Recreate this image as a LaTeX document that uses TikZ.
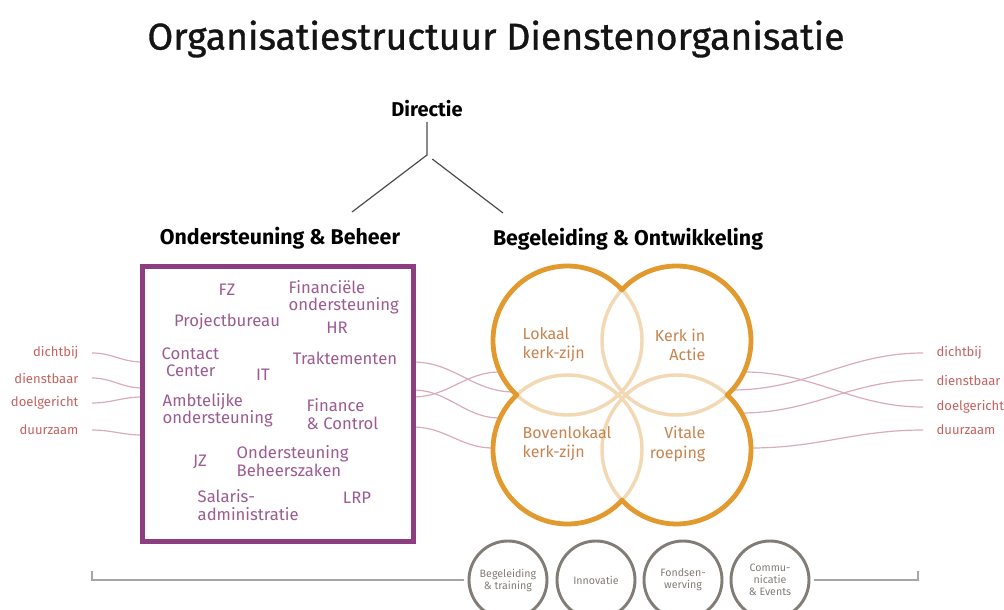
\documentclass[tikz,border=0pt]{standalone}
\usepackage{fontspec}
\setmainfont{Fira Sans}
\newfontfamily\titlefont{Fira Sans}[FakeBold=0.9]
\usepackage{tikz}
\usetikzlibrary{positioning}
\definecolor{mypurple}{RGB}{140,62,128}
\definecolor{myorange}{RGB}{226,154,46}
\definecolor{mylight}{RGB}{242,217,180}
\definecolor{myrust}{RGB}{200,132,80}
\definecolor{mypink}{RGB}{196,98,96}
\definecolor{mystrand}{RGB}{216,172,188}
\definecolor{mygrey}{RGB}{130,124,118}

\begin{document}
\begin{tikzpicture}[x=0.75pt,y=-0.75pt,
    strand/.style={draw=mystrand, line width=0.9pt}]
\useasboundingbox (0,0) rectangle (1004,610);
\clip (0,0) rectangle (1004,610);

\node[text=black!92, font=\titlefont\fontsize{28}{32}\selectfont] (title) at (496,39) {Organisatiestructuur Dienstenorganisatie};

\begin{scope}[every node/.style={font=\bfseries\fontsize{16}{18}\selectfont}]
    \node[font=\bfseries\fontsize{15}{17}\selectfont] (dir) at (427,109) {Directie};
    \node (obt) at (280,238) {Ondersteuning \& Beheer};
    \node (bot) at (628,239) {Begeleiding \& Ontwikkeling};
\end{scope}
\coordinate (split) at (427,155);
\coordinate (obtop) at (352,212);
\coordinate (botop) at (503,213);
\draw[black!70, line width=0.9pt, shorten <=5pt] (dir.south) -- (split) -- (obtop) (split) -- (botop);

% kernwaarden links en rechts
\begin{scope}[every node/.style={text=mypink, font=\fontsize{9.8}{11}\selectfont, inner xsep=10pt}]
    \node[anchor=east] (ldi) at (92,353) {dichtbij};
    \node[anchor=east] (lds) at (92,378) {dienstbaar};
    \node[anchor=east] (ldo) at (92,403) {doelgericht};
    \node[anchor=east] (ldu) at (92,430) {duurzaam};
    \node[anchor=west] (rdi) at (923,353) {dichtbij};
    \node[anchor=west] (rds) at (923,380) {dienstbaar};
    \node[anchor=west] (rdo) at (923,407) {doelgericht};
    \node[anchor=west] (rdu) at (923,430) {duurzaam};
\end{scope}

\path[strand] (ldi.east) to[out=0,in=180] (142,362) -- (413,362) to[out=0,in=180] (514,392) -- (732,390) to[out=0,in=180] (rdi.west);
\path[strand] (lds.east) to[out=0,in=180] (142,388) -- (413,390) to[out=0,in=180] (500,418) -- (741,413) to[out=0,in=180] (rds.west);
\path[strand] (ldo.east) to[out=0,in=180] (142,397) -- (413,397) to[out=0,in=180] (500,372) -- (744,372) to[out=0,in=180] (rdo.west);
\path[strand] (ldu.east) to[out=0,in=180] (142,435) -- (413,427) to[out=0,in=180] (493,448) -- (751,448) to[out=0,in=180] (rdu.west);

% ondersteuning & beheer
\node[draw=mypurple, fill=white, line width=3.75pt, minimum width=203.25pt, minimum height=206.25pt] (obox) at (277.5,403.5) {};

\begin{scope}[every node/.style={text=mypurple!85!white, align=left, font=\fontsize{12.5}{13}\selectfont}]
    \node (fz) at (227,290) {FZ};
    \node[anchor=west] (fin) at (284,297) {Financiële\\ondersteuning};
    \node (pb) at (227,322) {Projectbureau};
    \node (hr) at (337,328) {HR};
    \node[anchor=west] (cc) at (157,362) {Contact\\\ Center};
    \node (it) at (263,375) {IT};
    \node (tr) at (345,358) {Traktementen};
    \node[anchor=west] (amb) at (158,410) {Ambtelijke\\ondersteuning};
    \node[anchor=west] (fc) at (302,414) {Finance\\\& Control};
    \node (jz) at (200,462) {JZ};
    \node[anchor=west] (obz) at (232,461) {Ondersteuning\\Beheerszaken};
    \node[anchor=west] (sal) at (193,505) {Salaris-\\administratie};
    \node (lrp) at (357,498) {LRP};
\end{scope}

% begeleiding & ontwikkeling
\coordinate (k1) at (567.5,340.5);
\coordinate (k2) at (676.5,340.5);
\coordinate (k3) at (567.5,449.5);
\coordinate (k4) at (676.5,449.5);
\fill[white] (k1) circle[radius=74.5] (k2) circle[radius=74.5]
             (k3) circle[radius=74.5] (k4) circle[radius=74.5];
\foreach \k in {k1,k2,k3,k4}
    \draw[mylight, line width=2.6pt] (\k) circle[radius=74.5];
\foreach \k/\a/\b in {k1/133/317, k2/223/407, k3/43/227, k4/-47/137}
    \draw[myorange, line width=3.6pt, line cap=round] ([shift={(\a:74.5)}]\k) arc[start angle=\a, end angle=\b, radius=74.5];

\begin{scope}[every node/.style={text=myrust, font=\fontsize{12}{14.5}\selectfont}]
    \node[anchor=west, align=left] (lok) at (518,345) {Lokaal\\kerk-zijn};
    \node[anchor=east, align=right] (kia) at (710,345) {Kerk in\\Actie};
    \node[anchor=west, align=left] (bov) at (518,444) {Bovenlokaal\\kerk-zijn};
    \node[anchor=east, align=right] (vit) at (710,444) {Vitale\\roeping};
\end{scope}

% ondersteunende taken
\begin{scope}[every node/.style={circle, draw=mygrey, line width=2.2pt, minimum size=58.5pt, inner sep=0pt,
              align=center, text=mygrey, font=\fontsize{8}{9}\selectfont}]
    \node (bt) at (508,580) {Begeleiding\\\& training};
    \node (inn) at (596,580) {Innovatie};
    \node (fw) at (683,580) {Fondsen-\\werving};
    \node (ce) at (770,580) {Commu-\\nicatie\\\& Events};
\end{scope}
\coordinate (bl) at (92,571);
\coordinate (br) at (918,571);
\draw[black!35, line width=0.9pt, shorten <=3pt] (bt.west) -| (bl);
\draw[black!35, line width=0.9pt, shorten <=3pt] (ce.east) -| (br);
\end{tikzpicture}
\end{document}
